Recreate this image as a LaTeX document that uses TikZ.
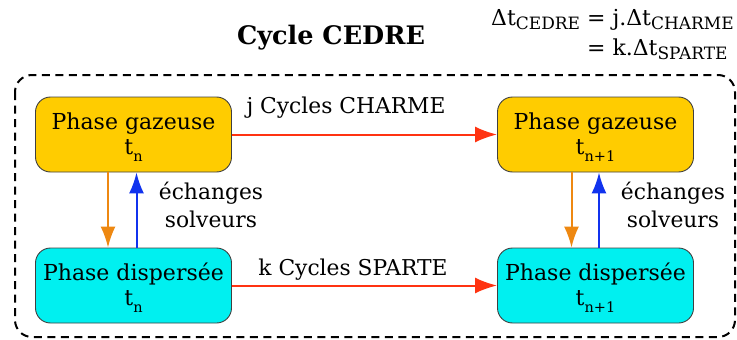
\documentclass[tikz,border=0pt]{standalone}
\usepackage{fontspec}
\setmainfont{DejaVu Serif}
\usetikzlibrary{arrows.meta}
\definecolor{goldA}{HTML}{FFCC00}
\definecolor{cyanA}{HTML}{00F0F0}
\definecolor{redA}{HTML}{FF3311}
\definecolor{orangeA}{HTML}{EE8811}
\definecolor{blueA}{HTML}{1133EE}
\newcommand\sbx[1]{\raisebox{-7pt}{\fontsize{14.5}{14.5}\selectfont #1}}
\newcommand\sbf[1]{\raisebox{-4.5pt}{\fontsize{17}{17}\selectfont #1}}
\newcommand\topstrut{\rule{0pt}{21pt}}
\tikzset{
  phasebox/.style={draw=black!75, line width=0.9pt, rounded corners=15pt,
    minimum width=196pt, minimum height=75pt, align=center,
    font=\fontsize{22}{25}\selectfont, inner sep=0pt},
  lab/.style={font=\fontsize{21.8}{28}\selectfont, align=center, inner sep=0pt},
  harrow/.style={draw=redA, line width=2pt, -{Latex[length=22pt,width=16pt]}},
  downarrow/.style={draw=orangeA, line width=2pt, -{Latex[length=21pt,width=15pt]}},
  uparrow/.style={draw=blueA, line width=2pt, -{Latex[length=21pt,width=15pt]}},
  frame/.style={draw=black, line width=2pt, dash pattern=on 8pt off 5.5pt, rounded corners=17pt}
}
\begin{document}
\begin{tikzpicture}[x=1pt,y=-1pt]
\useasboundingbox (0,0) rectangle (737,340);
\draw[frame] (15,75) rectangle (735,337);
\node[font=\bfseries\fontsize{25.5}{30}\selectfont, inner sep=0pt, anchor=base] (title) at (331,45) {Cycle CEDRE};
\node[font=\fontsize{22}{26}\selectfont, inner sep=0pt, anchor=base east] (form) at (734,25)
  {\begin{tabular}[t]{@{}r@{}l@{}}Δt\sbf{CEDRE} & {}\ = j.Δt\sbf{CHARME}\\[4pt] & {}\ = k.Δt\sbf{SPARTE}\end{tabular}};
\node[phasebox, fill=goldA] (g1) at (133.5,134.5) {\topstrut Phase gazeuse\\t\sbx{n}};
\node[phasebox, fill=cyanA] (d1) at (133.5,285.5) {\topstrut Phase dispersée\\t\sbx{n}};
\node[phasebox, fill=goldA] (g2) at (595.5,134.5) {\topstrut Phase gazeuse\\t\sbx{n+1}};
\node[phasebox, fill=cyanA] (d2) at (595.5,285.5) {\topstrut Phase dispersée\\t\sbx{n+1}};
\draw[harrow] (g1.east) -- (g2.west);
\draw[harrow] (d1.east) -- (d2.west);
\node[lab, anchor=base] (jc) at (346,113) {j Cycles CHARME};
\node[lab, anchor=base] (kc) at (353,275) {k Cycles SPARTE};
\draw[downarrow] ([xshift=-25.5pt]g1.south) -- ([xshift=-25.5pt]d1.north);
\draw[uparrow] ([xshift=3pt]d1.north) -- ([xshift=3pt]g1.south);
\draw[downarrow] ([xshift=-24pt]g2.south) -- ([xshift=-24pt]d2.north);
\draw[uparrow] ([xshift=3.5pt]d2.north) -- ([xshift=3.5pt]g2.south);
\node[lab] (e1) at (211,204.5) {échanges\\solveurs};
\node[lab] (e2) at (673,204.5) {échanges\\solveurs};
\end{tikzpicture}
\end{document}
